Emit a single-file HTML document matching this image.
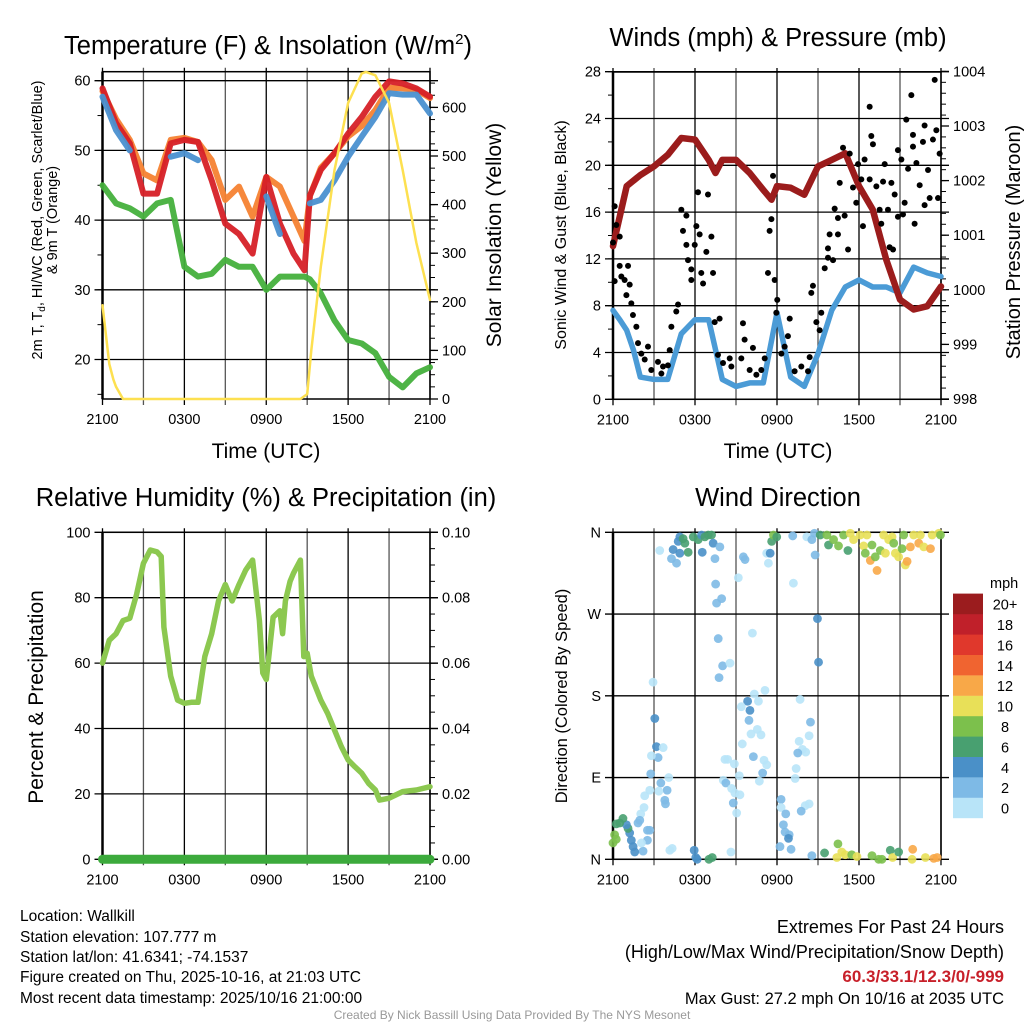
<!DOCTYPE html>
<html><head><meta charset="utf-8"><style>
html,body{margin:0;padding:0;background:#fff}
svg{display:block;font-family:"Liberation Sans",Arial,sans-serif}
</style></head><body>
<svg id="root" width="1024" height="1024" viewBox="0 0 1024 1024" xmlns="http://www.w3.org/2000/svg">
<rect width="1024" height="1024" fill="#fff"/>
<text x="268" y="54" font-size="25.5" text-anchor="middle">Temperature (F) &amp; Insolation (W/m<tspan font-size="15" dy="-10">2</tspan><tspan dy="10">)</tspan></text>
<text x="778" y="46" font-size="25.5" text-anchor="middle">Winds (mph) &amp; Pressure (mb)</text>
<text x="266" y="506" font-size="25.5" text-anchor="middle">Relative Humidity (%) &amp; Precipitation (in)</text>
<text x="778" y="506" font-size="25.5" text-anchor="middle">Wind Direction</text>
<text x="266" y="458" font-size="21" text-anchor="middle">Time (UTC)</text>
<text x="778" y="458" font-size="21" text-anchor="middle">Time (UTC)</text>
<g font-size="14.5" text-anchor="middle">
<text transform="translate(42,220) rotate(-90)">2m T, T<tspan font-size="10" dy="3">d</tspan><tspan dy="-3">, HI/WC (Red, Green, Scarlet/Blue)</tspan></text>
<text transform="translate(57,220) rotate(-90)">&amp; 9m T (Orange)</text>
</g>
<text transform="translate(501,235) rotate(-90)" font-size="21" text-anchor="middle">Solar Insolation (Yellow)</text>
<text transform="translate(566,235) rotate(-90)" font-size="16" text-anchor="middle">Sonic Wind &amp; Gust (Blue, Black)</text>
<text transform="translate(1020,242) rotate(-90)" font-size="20" text-anchor="middle">Station Pressure (Maroon)</text>
<text transform="translate(43,697) rotate(-90)" font-size="21" text-anchor="middle">Percent &amp; Precipitation</text>
<text transform="translate(567,696) rotate(-90)" font-size="16.5" text-anchor="middle">Direction (Colored By Speed)</text>
<g font-size="15.5">
<text x="20" y="921">Location: Wallkill</text>
<text x="20" y="942">Station elevation: 107.777 m</text>
<text x="20" y="962">Station lat/lon: 41.6341; -74.1537</text>
<text x="20" y="982">Figure created on Thu, 2025-10-16, at 21:03 UTC</text>
<text x="20" y="1003">Most recent data timestamp: 2025/10/16 21:00:00</text>
</g>
<g font-size="18" text-anchor="end">
<text x="1004" y="933">Extremes For Past 24 Hours</text>
<text x="1004" y="958">(High/Low/Max Wind/Precipitation/Snow Depth)</text>
<text x="1004" y="982" fill="#c8202a" font-weight="bold" font-size="17">60.3/33.1/12.3/0/-999</text>
<text x="1004" y="1004" font-size="16.5">Max Gust: 27.2 mph On 10/16 at 2035 UTC</text>
</g>
<text x="512" y="1019" font-size="12" fill="#999" text-anchor="middle">Created By Nick Bassill Using Data Provided By The NYS Mesonet</text>
<g id="charts"></g>
</svg>
<script>
// ---------- data ----------
const timeTicks = ["2100","0300","0900","1500","2100"];
const tempHours = [0,1,2,3,4,5,6,7,8,9,10,11,12,13,14,14.8,15.2,16,17,18,19,20,21,22,23,24];
const tempRed =    [58.9,53.9,51,43.8,43.8,51,51.5,51.2,45.7,39.5,38,35.2,46.2,39.5,35.2,32.8,43.5,47.2,49.6,52.4,54.8,57.7,59.9,59.6,58.9,57.7];
const tempOrange = [58.5,54.5,51.5,46.7,45.7,51.5,51.8,51.2,48.6,42.9,44.8,40.5,46.2,44.8,40.5,37,43.5,47.5,49.6,52,53.5,55.8,59,58.9,58.7,57.5];
const tempBlue =   [57.7,52.9,50,null,null,49.1,49.6,48.6,null,null,null,null,43.4,38,null,null,42.4,42.9,45.7,49.1,52,54.8,58.2,58,58,55.3];
const tempGreen =  [45,42.4,41.7,40.5,42.4,42.9,33.3,31.9,32.3,34.3,33.3,33.3,30,31.9,31.9,31.9,31.5,29.5,25.6,22.8,22.3,20.9,17.5,16,18,18.9];
const tempTicks = [20,30,40,50,60];
const solHours = [0,0.5,0.8,1,1.5,2,14.5,15,15.3,16,17,18,19,19.3,20,21,22,23,24];
const solValues = [193,72,40,25,0,0,0,10,100,272,471,609,670,673,666,609,471,321,204];
const solTicks = [0,100,200,300,400,500,600];

const windHours = [0,0.5,1,1.5,2,3,4,5,6,7,8,9,10,11,12,13,14,15,16,17,18,19,20,21,22,23,24];
const windSpeed = [7.6,6.8,5.9,4.2,1.9,1.7,1.7,5.6,6.8,6.8,1.7,1.1,1.4,1.4,7.4,1.9,1.1,3.9,7.6,9.6,10.2,9.6,9.6,9.1,11.3,10.8,10.5];
const presHours = [0,1,2,3,4,5,6,7,7.5,8,9,10,11,11.6,12,13,14,15,16,17,18,19,20,21,22,23,24];
const pressure = [1000.8,1001.9,1002.1,1002.26,1002.47,1002.78,1002.75,1002.38,1002.14,1002.38,1002.38,1002.14,1001.83,1001.65,1001.9,1001.87,1001.74,1002.26,1002.38,1002.5,1001.9,1001.47,1000.55,999.82,999.64,999.7,1000.06];
const gustHours = [0,.12,.24,.49,.49,1.1,.61,.85,.12,1.22,.98,1.34,1.46,1.71,1.83,2.07,2.56,2.32,2.8,3.29,3.66,4.02,3.54,4.15,4.27,4.63,4.76,5.0,5.12,5.37,5.37,5.49,5.73,5.73,5.98,6.1,6.22,6.34,6.46,6.59,6.95,6.83,7.2,7.32,7.44,7.8,7.68,8.05,8.54,8.66,9.39,9.51,9.63,10.0,10.24,10.49,10.85,11.1,11.34,11.46,11.59,11.71,11.83,12.02,11.95,12.32,12.56,12.8,12.93,13.29,13.78,14.27,14.39,14.51,14.63,14.88,15.12,15.24,15.49,15.73,15.73,15.85,16.1,16.22,16.46,16.46,16.59,16.83,16.95,17.2,17.32,17.56,17.8,17.93,18.17,18.29,18.41,18.78,18.78,18.9,19.02,19.27,19.51,19.63,19.76,19.88,20.12,20.24,20.37,20.49,20.61,20.85,20.85,21.1,21.22,21.34,21.46,21.59,21.83,21.95,21.95,22.07,22.2,22.44,22.68,22.8,22.8,23.05,23.17,23.41,23.54,23.66,23.78,23.9];
const gustMph = [13.4,16.5,14.9,13.9,11.4,11.4,10.5,10.2,10.1,9.8,8.9,8.2,7.2,6.2,4.8,3.9,4.5,3.4,2.5,3.2,2.8,2.9,2.2,4.2,6.2,7.5,8.1,16.2,14.4,15.7,13.2,11.9,11.1,10.2,13.2,14.8,17.7,14.1,10.8,9.9,17.5,12.6,13.9,10.8,6.6,6.9,3.8,3.1,3.5,2.8,3.5,6.5,5.1,2.5,4.4,2.1,2.5,3.5,10.8,14.4,15.4,19.1,10.2,8.5,7.4,3.9,4.5,5.4,6.9,2.4,2.8,2.4,3.6,9.1,9.7,6.6,5.9,7.4,11.2,12.1,12.9,14.1,11.9,16.3,14.1,15.5,18.5,21.5,15.7,12.8,21.0,18.1,16.8,20.1,18.8,14.8,20.5,25.0,18.8,22.5,21.8,18.2,16.2,15.0,18.6,20.1,16.2,13.0,18.5,12.8,17.5,21.3,15.6,20.5,15.8,16.8,23.9,19.7,26.0,22.6,21.6,15.0,20.2,18.3,22.0,23.4,16.6,19.6,17.2,22.2,27.3,23.0,17.2,21.0];
const windTicks = [0,4,8,12,16,20,24,28];
const presTicks = [998,999,1000,1001,1002,1003,1004];

const rhHours = [0,0.5,1,1.5,2,2.5,3,3.5,4,4.3,4.5,5,5.5,6,6.5,7,7.5,8,8.5,9,9.5,10,10.5,11,11.5,11.75,12,12.5,13,13.2,13.4,13.75,14,14.5,14.75,15,15.3,16,16.5,17,17.5,18,18.5,19,19.5,20,20.3,21,21.5,22,23,24];
const rhValues = [60,67,69,73,73.7,81,90.5,94.6,94,92.6,71,56,48.7,47.7,48,48,62,69,79,84,79,84,88.5,91.5,73,57,55,74,76,69,79,85,87.5,91.5,62,63,56,48.7,44.6,39.5,34.5,30.4,28.3,26.3,23.2,21.2,18.1,18.7,19.7,20.7,21.2,22.2];
const precipHours = [0,24];
const precipValues = [0,0];
const rhTicks = [0,20,40,60,80,100];
const precipTicks = ["0.00","0.02","0.04","0.06","0.08","0.10"];

const dirHours = [3.42,4.28,4.4,4.65,4.77,4.89,5.13,5.26,4.89,5.5,5.87,6.23,6.48,6.72,6.97,7.21,7.33,6.53,7.46,7.82,7.51,7.95,7.58,7.7,8.02,8.56,7.76,9.17,9.54,9.66,11.37,11.25,11.5,11.61,11.74,11.98,13.15,13.2,14.18,14.55,14.74,14.79,14.96,15.04,15.16,15.65,15.77,16.14,16.5,16.87,17.19,17.36,17.6,18.09,18.34,18.46,18.58,18.83,18.95,19.19,19.32,19.56,19.8,19.93,20.17,20.42,20.54,20.66,20.9,21.15,21.27,21.39,21.52,21.76,22.0,22.37,22.49,22.74,23.23,23.35,23.84,23.96,
2.93,3.06,3.18,3.3,3.67,2.81,2.76,3.5,3.96,4.08,3.35,3.79,3.84,2.69,2.32,2.27,2.03,1.83,1.96,2.52,2.69,2.52,2.2,2.08,1.59,1.47,1.34,1.22,1.1,0.98,0.73,0.49,0.24,0.12,0.24,0,4.16,4.33,5.94,6.06,6.16,7.02,7.26,8.63,8.19,8.39,8.88,8.07,8.26,8.68,8.92,9.29,8.8,9.05,9.24,9.46,9.85,10.02,9.95,9.39,10.34,10.64,11.12,10.2,10.56,10.83,10.1,10.27,11.05,11.25,10.95,10.71,12.3,12.3,12.64,12.47,12.59,12.89,12.84,12.22,13.03,13.69,14.45,14.35,13.62,13.86,14.1,13.52,13.4,13.33,14.35,14.06,13.77,14.55,15.48,16.46,16.38,16.74,16.99,17.47,17.85,18.95,19.44,19.68,20.29,20.46,20.9,21.93,21.88,22.86,23.47,23.72];
const dirDegrees = [340,331,341,326,350,355,353,348,337,338,355,352,357,355,357,357,348,338,331,344,303,287,282,243,213,216,200,310,333,330,326,337,337,350,357,355,356,304,355,352,359,335,265,217,357,357,346,352,345,357,340,359,352,357,345,337,357,329,346,333,318,340,357,337,352,355,348,337,333,342,357,324,328,344,357,348,357,344,342,357,359,357,
195,155,124,112,123,114,94,84,76,90,75,65,61,76,70,57,50,40,43,32,32,21,9,18,8,14,21,29,34,38,45,40,39,27,22,18,10,12,10,2,0,0,2,8,110,110,105,87,84,78,73,71,62,51,92,127,174,164,153,168,182,174,186,249,143,137,138,113,109,104,95,86,66,57,50,38,30,27,23,14,11,176,151,136,130,121,118,117,100,89,61,59,53,4,7,17,2,8,5,5,3,4,0,0,10,2,8,11,0,2,1,2];
const dirSpeed = [1,3,5,3,5,5,7,7,5,7,7,7,5,7,7,7,5,5,3,3,3,3,3,3,3,1,3,1,3,3,1,1,5,7,9,7,3,1,1,3,3,3,5,5,7,9,7,9,9,9,7,11,11,11,11,9,11,13,9,9,13,9,11,11,11,11,9,11,11,9,9,11,13,13,11,13,11,11,13,11,11,9,
1,5,5,3,1,1,3,3,3,1,1,3,3,1,1,1,1,3,3,3,3,3,3,1,5,5,5,5,7,5,7,7,7,9,9,9,1,1,5,5,5,7,7,1,1,1,1,1,3,1,1,1,3,1,1,1,5,5,3,1,1,1,1,1,1,1,1,3,1,1,3,1,3,1,3,3,3,3,5,3,3,1,3,1,1,1,1,3,1,1,1,1,3,3,7,9,11,11,11,9,11,9,9,9,7,11,7,13,11,11,13,13];
const dirTicks = ["N","E","S","W","N"];
const speedLevels = ["0","2","4","6","8","10","12","14","16","18","20+"];
const speedColors = ["#b8e4f8","#7ebae6","#4a90c8","#48a070","#7cc04c","#e8e058","#f8a848","#f06430","#e0382c","#c0202a","#9b1c1e"];

// ---------- helpers ----------
const NS = "http://www.w3.org/2000/svg";
const charts = document.getElementById("charts");
function mk(tag, attrs, parent) {
  const e = document.createElementNS(NS, tag);
  for (const k in attrs) e.setAttribute(k, attrs[k]);
  (parent || charts).appendChild(e);
  return e;
}
function pathFrom(xs, ys, fx, fy) {
  let d = "", pen = false;
  for (let i = 0; i < xs.length; i++) {
    if (ys[i] === null || ys[i] === undefined) { pen = false; continue; }
    d += (pen ? "L" : "M") + fx(xs[i]).toFixed(1) + " " + fy(ys[i]).toFixed(1);
    pen = true;
  }
  return d;
}
function panel(x0, x1, y0, y1, name, fy, ticks, tickLabels, rightScale, rightTicks, rightLabels, minorLeft, minorRight) {
  const g = mk("g", {});
  
  
  const hx = h => x0 + h * (x1 - x0) / 24;
  for (let h = 0; h <= 24; h += 3) {
    const l = mk("line", {x1: hx(h), x2: hx(h), y1: y0 - 4, y2: y1 + 6, stroke: (h % 6 === 0) ? "#000" : "#555", "stroke-width": 1.3}, g);
    
    
  }
  ticks.forEach((t, i) => {
    const y = fy(t);
    const l = mk("line", {x1: x0 - 8, x2: x1 + 8, y1: y, y2: y, stroke: "#000", "stroke-width": 1.3}, g);
    
    
    const tx = mk("text", {x: x0 - 12, y: y + 5, "font-size": 14.5, "text-anchor": "end"}, g);
    tx.textContent = tickLabels[i];
    
    
  });
  if (minorLeft) minorLeft.forEach(v => mk("line", {x1: x0 - 5, x2: x0, y1: fy(v), y2: fy(v), stroke: "#000", "stroke-width": 1}, g));
  if (rightScale) {
    rightTicks.forEach((t, i) => {
      const y = rightScale(t);
      mk("line", {x1: x1, x2: x1 + 8, y1: y, y2: y, stroke: "#000", "stroke-width": 1.3}, g);
      const tx = mk("text", {x: x1 + 12, y: y + 5, "font-size": 14.5}, g);
      tx.textContent = rightLabels[i];
      
      
    });
    if (minorRight) minorRight.forEach(v => mk("line", {x1: x1, x2: x1 + 5, y1: rightScale(v), y2: rightScale(v), stroke: "#000", "stroke-width": 1}, g));
  }
  const fr = mk("rect", {x: x0, y: y0, width: x1 - x0, height: y1 - y0, fill: "none", stroke: "#000", "stroke-width": 1.5}, g);
  
  
  mk("line", {x1: x0, x2: x0, y1: y0, y2: y1, stroke: "#000", "stroke-width": 2.5}, g);
  timeTicks.forEach((t, i) => {
    const tx = mk("text", {x: hx(i * 6), y: y1 + 25, "font-size": 14.5, "text-anchor": "middle"}, g);
    tx.textContent = t;
    
    
  });
  return hx;
}
function drawLine(xs, ys, fx, fy, color, w, name, op) {
  const p = mk("path", {d: pathFrom(xs, ys, fx, fy), fill: "none", stroke: color, "stroke-width": w, "stroke-linejoin": "round", "stroke-linecap": "round", opacity: op || 1});
  
  
  return p;
}
function range(a, b, s) { const r = []; for (let v = a; v <= b + 1e-9; v += s) r.push(v); return r; }

// ---------- panel 1 ----------
const t0 = 102.5, t1 = 430, tTop = 71.7, tBot = 399;
const tY = v => 80.7 + (60 - v) * 6.97;
const sY = v => 399 - v * 0.486;
const tX = panel(t0, t1, tTop, tBot, "temperature-chart", tY, tempTicks, tempTicks.map(String), sY, solTicks, solTicks.map(String), range(15, 60, 5), range(0, 650, 25));
drawLine(tempHours, tempGreen, tX, tY, "#44b03c", 6, "dewpoint-line", 0.95);
drawLine(tempHours, tempOrange, tX, tY, "#f58231", 6, "temp-9m-line", 0.95);
drawLine(tempHours, tempRed, tX, tY, "#d62027", 6, "temp-2m-line", 0.95);
drawLine(tempHours, tempBlue, tX, tY, "#4a90d0", 6, "heat-index-windchill-line", 0.95);
drawLine(solHours, solValues, tX, sY, "#fde050", 2.5, "solar-insolation-line");

// ---------- panel 2 ----------
const w0 = 613, w1 = 941, wTop = 72, wBot = 399.3;
const wY = v => 399.3 - v * 11.7;
const pY = v => 399 - (v - 998) * 54.6;
const wX = panel(w0, w1, wTop, wBot, "winds-chart", wY, windTicks, windTicks.map(String), pY, presTicks, presTicks.map(String), range(0, 28, 2), range(998, 1004, 0.2));
drawLine(windHours, windSpeed, wX, wY, "#4b9bd6", 5.5, "sonic-wind-line");
drawLine(presHours, pressure, wX, pY, "#9b1c1c", 6.5, "pressure-line");
gustHours.forEach((h, i) => {
  const c = mk("circle", {cx: wX(h), cy: wY(gustMph[i]), r: 3, fill: "#000"});
  
  
});

// ---------- panel 3 ----------
const r0 = 102.5, r1 = 430, rTop = 532.3, rBot = 859.3;
const rY = v => 859.3 - v * 3.27;
const rX = panel(r0, r1, rTop, rBot, "humidity-chart", rY, rhTicks, rhTicks.map(String), rY, rhTicks, precipTicks, null, range(0, 100, 5));
drawLine(rhHours, rhValues, rX, rY, "#8cc850", 5.5, "relative-humidity-line");
drawLine(precipHours, precipValues, rX, v => rY(v * 1000), "#3caa3c", 9, "precipitation-line");

// ---------- panel 4 ----------
const d0 = 613, d1 = 941, dTop = 532.3, dBot = 859.3;
const dY = v => 859.3 - v * 0.9083;
const dX = panel(d0, d1, dTop, dBot, "wind-direction-chart", dY, [0, 90, 180, 270, 360], dirTicks, null);
dirHours.forEach((h, i) => {
  const idx = Math.min(10, Math.floor(dirSpeed[i] / 2));
  const c = mk("circle", {cx: dX(h), cy: dY(dirDegrees[i]), r: 4.4, fill: speedColors[idx], opacity: 0.9});
  
  
});
const cb = mk("g", {});


const ut = mk("text", {x: 990, y: 588, "font-size": 14.5}, cb);
ut.textContent = "mph";
speedLevels.forEach((lab, i) => {
  const y = 818 - (i + 1) * 20.4;
  const r = mk("rect", {x: 953, y: y, width: 30, height: 20.6, fill: speedColors[i]}, cb);
  
  
  const t = mk("text", {x: 1005, y: y + 16, "font-size": 14.5, "text-anchor": "middle"}, cb);
  t.textContent = lab;
  
  
});
</script>
</body></html>
